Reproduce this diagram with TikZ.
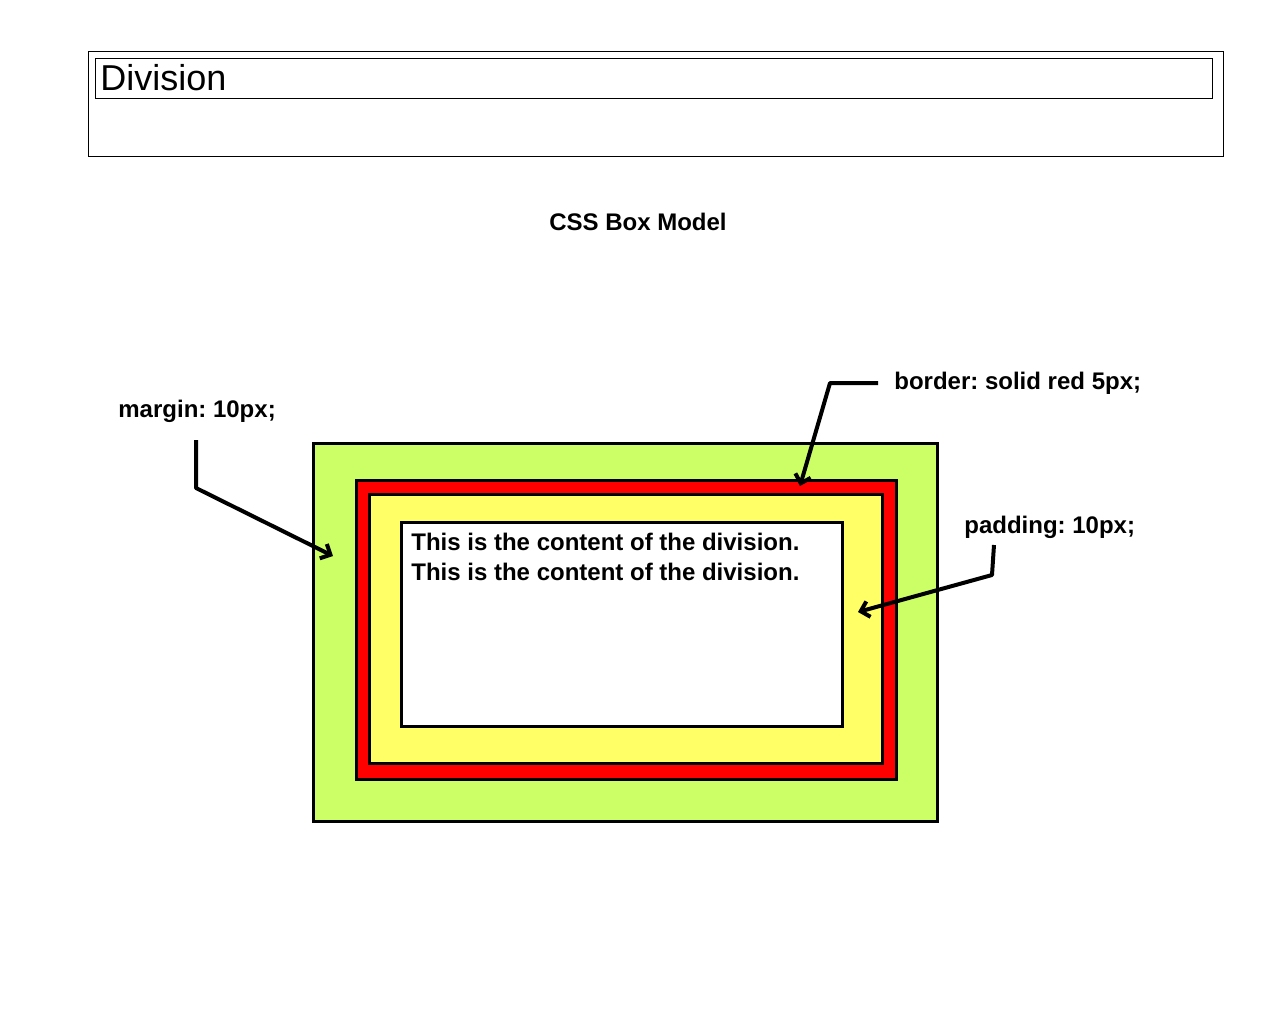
\documentclass[tikz,border=0pt]{standalone}
\usepackage{fontspec}
\setmainfont{Liberation Sans}
\usepackage{xcolor}
\usepackage{tikz}
\usetikzlibrary{arrows.meta}
\definecolor{marginGreen}{RGB}{204,255,102}
\definecolor{paddingYellow}{RGB}{255,255,102}
\definecolor{borderRed}{RGB}{255,0,0}
\frenchspacing
\tikzset{
  thinbox/.style={line width=0.45pt},
  cssbox/.style={line width=1.5pt},
  cssnote/.style={font=\bfseries\fontsize{12}{14}\selectfont, anchor=base west},
  callout/.style={line width=2pt, line join=round, -{Straight Barb[length=4pt,width=8pt]}}
}
\begin{document}
\begin{tikzpicture}[x=0.5pt,y=-0.5pt]
\useasboundingbox (0,0) rectangle (1280,1024);
% header division
\draw[thinbox] (88,51) rectangle (1223,156);
\draw[thinbox] (95,58) rectangle (1212,98);
\node[anchor=base west, inner sep=0pt, font=\fontsize{18}{20}\selectfont] (division) at (100,90) {Division};
\node[font=\bfseries\fontsize{12}{14}\selectfont] (title) at (638,222) {CSS Box Model};
% nested boxes
\draw[cssbox, fill=marginGreen] (313,443) rectangle (937,821);
\draw[cssbox, fill=borderRed] (356,480) rectangle (896,779);
\draw[cssbox, fill=paddingYellow] (369,494) rectangle (882,763);
\draw[cssbox, fill=white] (401,522) rectangle (842,726);
\node[cssnote, inner sep=0pt] (content1) at (411,550) {This is the content of the division.};
\node[cssnote, inner sep=0pt] (content2) at (411,580) {This is the content of the division.};
% labels
\node[cssnote, inner sep=0pt] (margin) at (118,417) {margin: 10px;};
\node[cssnote, inner sep=0pt] (border) at (894,389) {border: solid red 5px;};
\node[cssnote, inner sep=0pt] (padding) at (964,533) {padding: 10px;};
% callouts
\coordinate (marginstart) at (196,440);
\coordinate (marginbend) at (196,488);
\coordinate (margintip) at (333,556);
\coordinate (borderstart) at (878,383);
\coordinate (borderbend) at (830,383);
\coordinate (bordertip) at (800,486);
\coordinate (paddingstart) at (994,545);
\coordinate (paddingbend) at (992,575);
\coordinate (paddingtip) at (858,612);
\draw[callout] (marginstart) -- (marginbend) -- (margintip);
\draw[callout] (borderstart) -- (borderbend) -- (bordertip);
\draw[callout] (paddingstart) -- (paddingbend) -- (paddingtip);
\end{tikzpicture}
\end{document}
